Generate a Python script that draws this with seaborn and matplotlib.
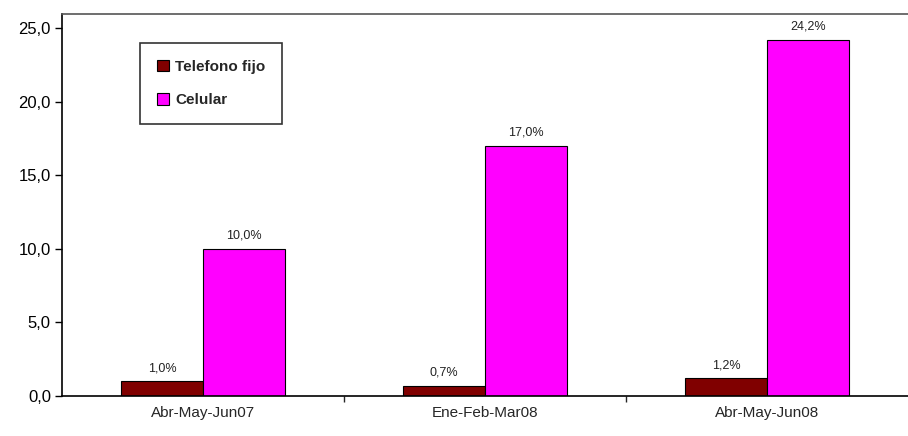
import pandas as pd
import matplotlib
matplotlib.use("Agg")
import matplotlib.pyplot as plt
import seaborn as sns
from matplotlib.ticker import FixedLocator, FuncFormatter

# Data
periods = ["Abr-May-Jun07", "Ene-Feb-Mar08", "Abr-May-Jun08"]
fijo = [1.0, 0.7, 1.2]
celular = [10.0, 17.0, 24.2]
series_names = ["Telefono fijo", "Celular"]
colors = ["#800000", "#FF00FF"]

df = pd.DataFrame({
    "periodo": periods * 2,
    "valor": fijo + celular,
    "serie": [series_names[0]] * 3 + [series_names[1]] * 3,
})

sns.set_style("white")
plt.rcParams["font.family"] = ["Liberation Sans Narrow", "Liberation Sans", "DejaVu Sans"]

fig = plt.figure(figsize=(9.08, 4.36), dpi=100)
ax = fig.add_axes([62 / 908, 1 - 396 / 436, 1 - 62 / 908, (396 - 14) / 436])

sns.barplot(data=df, x="periodo", y="valor", hue="serie", palette=colors,
            saturation=1, width=0.58, edgecolor="black", linewidth=0.8, ax=ax)

# Value labels above each bar
for container in ax.containers:
    labels = [f"{b.get_height():.1f}%".replace(".", ",") for b in container]
    ax.bar_label(container, labels=labels, padding=5, fontsize=9, color="#222222")

ax.set_xlim(-0.5, 2.5)
ax.set_ylim(0, 25.95)
ax.set_yticks([0, 5, 10, 15, 20, 25])
ax.yaxis.set_major_formatter(FuncFormatter(lambda v, p: f"{v:.1f}".replace(".", ",")))
ax.tick_params(axis="y", direction="out", length=5, width=1, labelsize=12,
               left=True, pad=3, colors="black")
ax.tick_params(axis="x", which="major", length=0, labelsize=11, pad=7)
ax.xaxis.set_minor_locator(FixedLocator([0.5, 1.5]))
ax.tick_params(axis="x", which="minor", direction="out", length=4, width=1, bottom=True)
ax.set_xlabel("")
ax.set_ylabel("")

for side in ["left", "bottom"]:
    ax.spines[side].set_color("black")
    ax.spines[side].set_linewidth(1.2)
ax.spines["top"].set_color("#555555")
ax.spines["top"].set_linewidth(1.2)
ax.spines["right"].set_visible(False)

leg = ax.legend(loc="upper left", bbox_to_anchor=((140 - 62) / 846, (396 - 43) / 382),
                frameon=True, fancybox=False, edgecolor="black", fontsize=11,
                handlelength=0.8, handleheight=0.8, handletextpad=0.4,
                labelspacing=1.25, borderpad=1.1, borderaxespad=0)
leg.get_frame().set_linewidth(1.2)
for t in leg.get_texts():
    t.set_fontweight("bold")

fig.savefig("out.png", dpi=100)
